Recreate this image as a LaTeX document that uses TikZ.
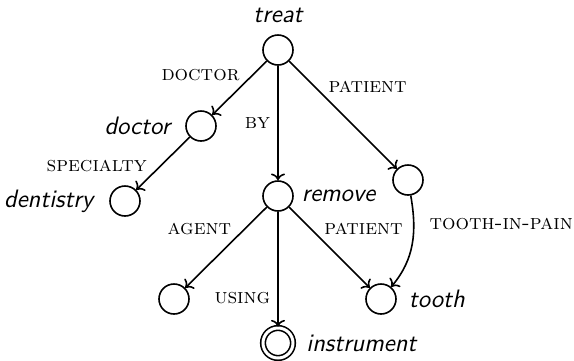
\documentclass[tikz,border=0pt]{standalone}
\usetikzlibrary{automata, arrows.meta, positioning}

\begin{document}
\begin{tikzpicture}[x=0.5pt, y=-0.5pt, on grid,
			every state/.style = {
				draw, thick, minimum size=15pt, inner sep=0pt
			},
			lbl/.style = {font=\fontsize{12.6}{15}\selectfont\sffamily\itshape},
			rel/.style = {font=\fontsize{10.6}{13}\selectfont\scshape, inner sep=1.5pt}]
			\useasboundingbox (0,0) rectangle (574,360);
			\node (treat) [state, label={[lbl, label distance=2pt]above:treat}] at (278,50) {};
			\node (doctor) [state, below left = 38pt and 38.5pt of treat,
			label={[lbl, label distance=4pt]left:doctor}] {};
			\node (dentistry) [state, below left = 37.5pt and 38pt of doctor,
			label={[lbl, label distance=4.5pt]left:dentistry}] {};
			\node (remove) [state, below = 73pt of treat,
			label={[lbl, label distance=0.5pt]right:remove}] {};
			\node (toothpain) [state, below right = 65pt and 65pt of treat] {};
			\node (agent) [state, below left = 51.5pt and 52pt of remove] {};
			\node (tooth) [state, below right = 51.5pt and 51.5pt of remove,
			label={[lbl, label distance=2.5pt]right:tooth}] {};
			\node (instrument) [state, accepting, double distance=1.5pt, below = 73.5pt of remove,
			label={[lbl, label distance=2.5pt]right:instrument}] {};
			\path [->, thick]
			(treat) edge node[rel, above left, pos=0.43] {doctor} (doctor)
			(treat) edge node[rel, left=2pt] {by} (remove)
			(treat) edge node[rel, above right, pos=0.33] {patient} (toothpain)
			(doctor) edge node[rel, above left, pos=0.73] {specialty} (dentistry)
			(remove) edge node[rel, above left, pos=0.39] {agent} (agent)
			(remove) edge node[rel, left=2pt, pos=0.75] {using} (instrument)
			(remove) edge node[rel, above right, pos=0.39] {patient} (tooth)
			(toothpain) edge [out=-80, in=50] node[rel, right=6pt, pos=0.28] {tooth-in-pain} (tooth);
		\end{tikzpicture}
\end{document}
